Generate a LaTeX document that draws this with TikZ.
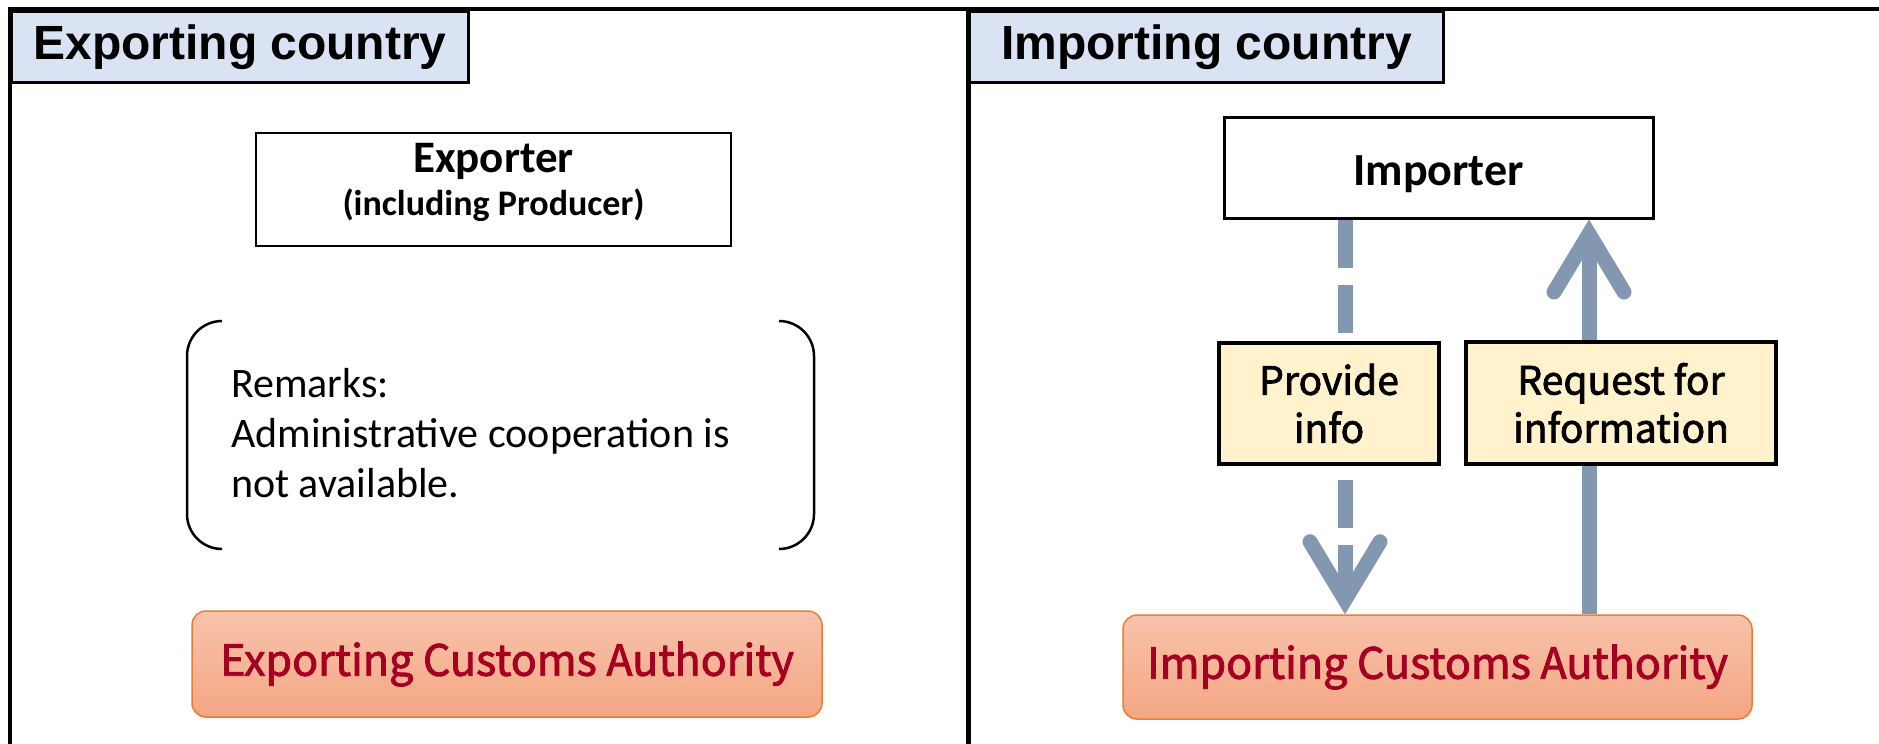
\documentclass[tikz,border=0pt]{standalone}
\usepackage{fontspec}
\setmainfont{Carlito}
\newfontfamily\headfont{Liberation Sans}
\newfontfamily\gothicfont[FakeBold=2]{Noto Sans CJK JP}
\usetikzlibrary{arrows.meta}

\definecolor{hdrblue}{HTML}{DAE3F3}
\definecolor{notefill}{HTML}{FFF2CC}
\definecolor{flowgray}{HTML}{8497B0}
\definecolor{custtop}{HTML}{F7C3AB}
\definecolor{custbot}{HTML}{F4A683}
\definecolor{custedge}{HTML}{ED7D31}
\definecolor{custtext}{HTML}{A50021}

\tikzset{
  frameline/.style={draw=black, line width=4pt},
  header/.style={draw=black, line width=3pt, fill=hdrblue, anchor=north west,
    inner sep=0pt, minimum height=71pt,
    font=\headfont\bfseries\fontsize{48}{56}\selectfont},
  party/.style={draw=black, line width=2.5pt, fill=white, inner sep=0pt},
  partytext/.style={inner sep=0pt, align=center},
  labelbox/.style={draw=black, line width=3.5pt, fill=notefill, inner sep=0pt,
    align=center, font=\gothicfont\fontsize{39}{48}\selectfont},
  customs/.style={draw=custedge, line width=1.5pt, rounded corners=14pt,
    top color=custtop, bottom color=custbot, text=custtext, inner sep=0pt,
    font=\gothicfont\fontsize{43}{55}\selectfont},
  bracketline/.style={draw=black, line width=2.5pt, rounded corners=35pt},
  flow/.style={draw=flowgray, line width=15pt,
    -{Straight Barb[length=58pt, width=70pt, line cap=round]}},
}

\begin{document}
\begin{tikzpicture}[x=1pt, y=-1pt]
  \useasboundingbox (0,0) rectangle (1879,744);

  % outer frame and the divider between the two countries
  \draw[frameline] (10,744) -- (10,8.5) -- (1879,8.5);
  \draw[frameline, line width=5pt] (968,8.5) -- (968,744);

  % country headers
  \node[header, minimum width=457pt] (hexp) at (10,10) {Exporting country};
  \node[header, minimum width=474pt] (himp) at (968,10) {Importing country};

  % exporting side
  \node[party, minimum width=475pt, minimum height=113pt] (exporter) at (493.5,189.5) {};
  \node[partytext] (exportertext) at ([yshift=7pt]exporter.center)
    {{\bfseries\fontsize{45}{49}\selectfont Exporter}\\[9pt]
     {\bfseries\fontsize{36}{44}\selectfont (including Producer)}};

  \node[anchor=west, align=left, inner sep=0pt,
        font=\fontsize{42}{50}\selectfont] (remarks) at (231,433)
    {Remarks:\\Administrative cooperation is\\not available.};
  \draw[bracketline] (222,321) -- (187,321) -- (187,549) -- (222,549);
  \draw[bracketline] (779,321) -- (814,321) -- (814,549) -- (779,549);

  \node[customs, minimum width=630pt, minimum height=106pt] (ecus) at (507,664)
    {Exporting Customs Authority};

  % importing side
  \node[party, line width=3pt, minimum width=429pt, minimum height=101pt]
        (importer) at (1438.5,167.5) {};
  \node[partytext, text depth=0pt, font=\bfseries\fontsize{46}{55}\selectfont]
        (importertext) at ([yshift=-3pt]importer.center) {Importer};
  \node[customs, minimum width=629pt, minimum height=104pt] (icus) at (1437.5,667)
    {Importing Customs Authority};

  \coordinate (downcol) at (1345,0);
  \coordinate (upcol) at (1589,0);
  \draw[flow, dash pattern=on 48pt off 17pt]
    (importer.south -| downcol) -- (icus.north -| downcol);
  \draw[flow] (icus.north -| upcol) -- (importer.south -| upcol);

  \node[labelbox, minimum width=220pt, minimum height=121pt] (provide) at (1329,403.5)
    {Provide\\info};
  \node[labelbox, minimum width=310pt, minimum height=122pt] (request) at (1621,403)
    {Request for\\information};
\end{tikzpicture}
\end{document}
